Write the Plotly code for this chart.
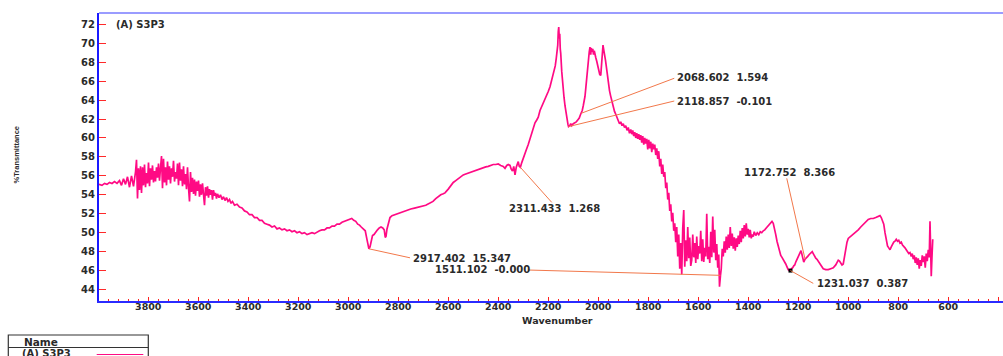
import numpy as np
import plotly.graph_objects as go

# ---------------- spectrum: (wavenumber cm-1, %Transmittance) ----------------
band_4000_3860 = [
    (3997, 55.1), (3985, 55.0), (3975, 55.2), (3965, 55.1), (3955, 55.3), (3945, 55.2),
    (3935, 55.4), (3925, 55.2), (3915, 55.5), (3907, 55.0), (3899, 55.7), (3891, 55.1),
    (3883, 55.9), (3875, 54.8), (3867, 56.0), (3859, 54.9),
]

band_oh = [
    (3851, 56.4), (3847, 57.7), (3843, 53.6), (3839, 56.8), (3835, 54.5), (3831, 57.0),
    (3827, 54.2), (3823, 56.9), (3819, 55.0), (3815, 57.2), (3811, 54.8), (3807, 56.3),
    (3803, 55.2), (3799, 57.4), (3795, 54.9), (3791, 56.8), (3787, 55.6), (3783, 57.1),
    (3779, 55.3), (3775, 56.5), (3771, 55.4), (3767, 56.9), (3763, 55.8), (3759, 57.3),
    (3755, 55.5), (3751, 56.6), (3747, 58.1), (3743, 54.7), (3739, 57.8), (3735, 55.3),
    (3731, 56.9), (3727, 55.0), (3723, 57.5), (3719, 55.6), (3715, 57.0), (3711, 55.2),
    (3707, 56.8), (3703, 55.9), (3699, 57.6), (3695, 55.4), (3691, 56.4), (3687, 55.7),
    (3683, 57.3), (3679, 55.0), (3675, 57.4), (3671, 55.5), (3667, 56.7), (3663, 54.9),
    (3659, 57.0), (3655, 55.1), (3651, 56.2), (3647, 54.6), (3643, 56.9), (3639, 54.8),
    (3635, 53.3), (3631, 56.4), (3627, 54.3), (3623, 55.8), (3619, 54.1), (3615, 55.6),
    (3611, 53.9), (3607, 55.4), (3603, 54.4), (3599, 55.5), (3595, 53.8), (3591, 55.1),
    (3587, 54.0), (3583, 55.2), (3579, 53.6), (3575, 52.9), (3571, 54.8), (3567, 53.9),
    (3563, 54.9), (3559, 53.7), (3555, 54.6), (3551, 54.0), (3547, 54.5), (3543, 53.5),
    (3539, 54.5), (3535, 53.9), (3531, 54.2), (3527, 53.6), (3523, 54.1), (3517, 53.7),
    (3511, 54.0), (3505, 53.5), (3499, 53.8), (3493, 53.4), (3487, 53.7), (3481, 53.3),
    (3475, 53.5), (3469, 53.1), (3463, 53.3),
]

band_3460_2290 = [
    (3455, 52.9), (3445, 53.0), (3435, 52.7), (3425, 52.6), (3415, 52.3), (3405, 52.2),
    (3395, 51.9), (3385, 51.9), (3375, 51.6), (3365, 51.6), (3355, 51.3), (3345, 51.3),
    (3335, 51.0), (3325, 50.9), (3315, 50.8), (3305, 50.6), (3295, 50.7), (3285, 50.4),
    (3275, 50.5), (3265, 50.3), (3255, 50.4), (3245, 50.2), (3235, 50.3), (3225, 50.1),
    (3215, 50.2), (3205, 50.0), (3195, 50.1), (3185, 49.9), (3175, 50.0), (3165, 49.8),
    (3155, 49.9), (3145, 50.0), (3135, 49.9), (3125, 50.1), (3115, 50.2), (3105, 50.3),
    (3095, 50.3), (3085, 50.5), (3075, 50.5), (3065, 50.7), (3055, 50.7), (3045, 50.9),
    (3035, 50.9), (3025, 51.1), (3015, 51.2), (3005, 51.3), (2995, 51.4), (2986, 51.5),
    (2978, 51.3), (2970, 51.2), (2962, 50.9), (2955, 50.8), (2948, 50.6), (2940, 50.4),
    (2932, 50.2), (2926, 49.4), (2921, 48.6), (2917.402, 48.3), (2913, 48.5), (2908, 49.3),
    (2903, 49.7), (2897, 49.8), (2890, 50.1), (2883, 50.3), (2876, 50.5), (2869, 50.6),
    (2862, 50.5), (2856, 50.3), (2852, 49.5), (2849, 49.6), (2845, 50.4), (2840, 51.0),
    (2833, 51.6), (2825, 51.8), (2815, 51.9), (2805, 52.0), (2793, 52.1), (2780, 52.2),
    (2765, 52.4), (2750, 52.5), (2735, 52.6), (2720, 52.7), (2705, 52.8), (2690, 52.9),
    (2675, 53.1), (2661, 53.3), (2650, 53.6), (2640, 53.8), (2630, 54.0), (2620, 54.1),
    (2613, 54.2), (2600, 54.6), (2590, 55.0), (2580, 55.3), (2570, 55.5), (2560, 55.7),
    (2550, 55.9), (2540, 56.1), (2530, 56.2), (2520, 56.3), (2510, 56.4), (2500, 56.5),
    (2490, 56.6), (2480, 56.7), (2470, 56.8), (2460, 56.9), (2450, 56.95), (2440, 57.0),
    (2430, 57.1), (2420, 57.2), (2410, 57.2), (2400, 57.25), (2390, 57.1), (2380, 57.0),
    (2373, 56.8), (2366, 57.1), (2360, 57.2), (2353, 57.1), (2348, 56.7), (2343, 56.5),
    (2338, 57.0), (2333, 56.1), (2328, 56.9), (2323, 57.2), (2320, 57.5), (2316, 57.0),
    (2311.433, 56.9), (2306, 57.4), (2300, 57.9), (2294, 58.3),
]

band_2290_1690 = [
    (2287, 58.8), (2280, 59.3), (2273, 59.9), (2267, 60.5), (2260, 61.0), (2253, 61.6),
    (2246, 61.9), (2240, 62.2), (2233, 62.9), (2226, 63.3), (2220, 63.6), (2213, 64.0),
    (2206, 64.5), (2200, 64.9), (2193, 65.4), (2187, 66.0), (2182, 66.4), (2177, 67.2),
    (2172, 67.6), (2168, 68.4), (2165, 69.0), (2162, 69.8), (2160, 71.2), (2158, 71.7),
    (2156, 70.5), (2154, 71.0), (2152, 69.4), (2150, 68.9), (2146, 67.0), (2142, 65.4),
    (2137, 64.3), (2133, 63.4), (2129, 62.6), (2125, 62.0), (2121, 61.4), (2118.857, 61.2),
    (2114, 61.3), (2110, 61.5), (2106, 61.3), (2100, 61.5), (2094, 61.6), (2088, 61.7),
    (2082, 61.9), (2076, 62.1), (2072, 62.4), (2068.602, 62.6), (2064, 62.9), (2060, 63.4),
    (2056, 63.9), (2053, 64.4), (2050, 65.2), (2047, 66.2), (2044, 67.2), (2041, 68.2),
    (2038, 68.9), (2036, 69.1), (2033, 69.6), (2030, 68.8), (2028, 69.5), (2025, 69.1),
    (2022, 69.4), (2019, 68.8), (2016, 69.2), (2013, 68.7), (2010, 68.5), (2006, 68.1),
    (2002, 67.5), (1998, 67.0), (1994, 66.7), (1990, 66.6), (1987, 67.5), (1984, 69.0),
    (1981, 69.8), (1978, 69.3), (1975, 68.9), (1971, 68.2), (1967, 67.4), (1963, 66.5),
    (1959, 65.7), (1955, 65.0), (1951, 64.5), (1947, 64.0), (1943, 63.6), (1939, 63.3),
    (1935, 62.8), (1930, 62.5), (1925, 62.2), (1920, 61.9), (1915, 61.5), (1910, 61.7),
    (1905, 61.3), (1900, 61.5), (1895, 61.1), (1890, 61.3), (1885, 60.8), (1880, 61.1),
    (1875, 60.5), (1870, 60.9), (1866, 60.4), (1862, 60.8), (1858, 60.2), (1854, 60.6),
    (1850, 60.0), (1846, 60.5), (1842, 59.9), (1838, 60.4), (1834, 59.8), (1830, 60.3),
    (1826, 59.5), (1822, 60.2), (1818, 59.3), (1814, 60.0), (1810, 59.4), (1806, 59.9),
    (1802, 58.8), (1798, 59.8), (1794, 58.9), (1790, 59.6), (1786, 58.5), (1782, 59.4),
    (1778, 58.8), (1774, 59.3), (1770, 58.2), (1766, 58.9), (1762, 57.8), (1758, 58.6),
    (1754, 57.0), (1750, 57.8), (1746, 56.2), (1742, 57.2), (1738, 55.9), (1734, 56.4),
    (1730, 54.7), (1726, 55.3), (1722, 53.5), (1718, 54.2), (1714, 52.3), (1710, 53.0),
    (1706, 51.2), (1702, 52.1), (1698, 50.2), (1694, 51.0), (1690, 49.0), (1686, 50.6),
]

band_1690_1300 = [
    (1682, 47.5), (1678, 49.8), (1674, 46.2), (1670, 48.9), (1666, 45.6), (1662, 50.5),
    (1658, 52.4), (1654, 46.4), (1650, 49.2), (1646, 47.0), (1642, 50.6), (1638, 47.3),
    (1634, 49.5), (1630, 46.5), (1626, 47.1), (1622, 49.8), (1618, 47.4), (1614, 48.9),
    (1610, 46.8), (1606, 49.6), (1602, 47.2), (1598, 48.6), (1594, 47.8), (1590, 50.2),
    (1586, 47.0), (1582, 49.3), (1578, 46.9), (1574, 48.4), (1570, 47.5), (1566, 52.0),
    (1562, 47.2), (1558, 48.5), (1554, 46.8), (1550, 50.1), (1546, 47.4), (1542, 51.7),
    (1538, 47.9), (1534, 50.3), (1530, 47.1), (1526, 48.8), (1522, 46.3), (1518, 47.7),
    (1515, 44.3), (1511.102, 45.5), (1508, 46.2), (1504, 48.3), (1500, 47.5), (1496, 49.1),
    (1492, 47.9), (1488, 49.6), (1484, 48.2), (1480, 49.8), (1476, 48.4), (1472, 50.6),
    (1468, 48.6), (1464, 49.9), (1460, 48.3), (1456, 49.5), (1452, 48.1), (1448, 49.4),
    (1444, 48.5), (1440, 49.7), (1436, 48.8), (1432, 50.2), (1428, 49.0), (1424, 50.5),
    (1420, 49.4), (1416, 50.8), (1412, 49.6), (1408, 51.0), (1404, 49.8), (1400, 50.4),
    (1396, 49.5), (1392, 50.3), (1388, 49.4), (1384, 49.8), (1380, 49.6), (1376, 50.1),
    (1370, 49.7), (1364, 50.0), (1358, 49.8), (1352, 50.1), (1346, 50.0), (1340, 50.2),
    (1334, 50.3), (1328, 50.5), (1322, 50.7), (1316, 50.9), (1310, 51.1), (1305, 51.2),
]

band_1300_660 = [
    (1300, 51.0), (1295, 50.5), (1290, 49.8), (1285, 49.1), (1280, 48.5), (1275, 47.9),
    (1270, 47.6), (1265, 47.4), (1260, 47.2), (1255, 46.9), (1250, 46.7), (1245, 46.4),
    (1240, 46.1), (1235, 46.0), (1231.037, 46.0), (1227, 46.2), (1222, 46.3), (1218, 46.5),
    (1214, 46.6), (1210, 46.9), (1205, 47.2), (1200, 47.5), (1196, 47.6), (1192, 47.9),
    (1189, 48.1), (1186, 47.8), (1182, 47.2), (1178, 46.9), (1172.752, 47.2), (1168, 47.3),
    (1162, 47.5), (1156, 47.7), (1150, 47.9), (1144, 48.0), (1140, 47.8), (1135, 47.5),
    (1130, 47.3), (1125, 47.2), (1120, 47.0), (1115, 46.8), (1110, 46.5), (1105, 46.3),
    (1100, 46.2), (1090, 46.1), (1080, 46.1), (1070, 46.2), (1060, 46.3), (1050, 46.6),
    (1045, 46.9), (1040, 47.1), (1035, 47.0), (1030, 46.8), (1025, 46.6), (1020, 46.7),
    (1015, 47.5), (1010, 48.4), (1005, 49.0), (1000, 49.4), (990, 49.6), (980, 49.8),
    (970, 50.0), (960, 50.3), (950, 50.6), (940, 50.9), (930, 51.2), (920, 51.4),
    (910, 51.5), (900, 51.5), (890, 51.6), (880, 51.7), (873, 51.8), (868, 51.6),
    (863, 51.3), (858, 50.9), (853, 50.0), (848, 49.1), (843, 48.6), (838, 48.4),
    (833, 48.2), (828, 48.5), (823, 48.8), (818, 49.0), (813, 49.1), (808, 49.3),
    (803, 49.1), (798, 49.2), (793, 48.9), (788, 49.0), (783, 48.7), (778, 48.6),
    (773, 48.4), (768, 48.2), (763, 48.0), (758, 47.8), (753, 47.9), (748, 47.5),
    (744, 47.8), (740, 47.2), (736, 47.6), (732, 46.8), (728, 47.4), (724, 46.6),
    (720, 47.3), (716, 46.2), (712, 47.1), (708, 46.5), (704, 47.6), (700, 46.9),
    (696, 47.5), (692, 46.3), (688, 47.8), (684, 47.0), (680, 48.2), (676, 47.4),
    (673, 51.2), (671, 48.0), (668, 45.4), (665, 47.5), (662, 49.3),
]

# picked peaks: wavenumber and peak height shown next to each marker line
peak_wavenumber = [2068.602, 2118.857, 2311.433, 2917.402, 1511.102, 1172.752, 1231.037]
peak_height = [1.594, -0.101, 1.268, 15.347, -0.0, 8.366, 0.387]

# where each peak label sits: (text x, text y, leader end x, leader end y) in axis units
label_layout = [
    (1693, 66.43, 1696, 66.3),
    (1693, 63.90, 1696, 63.9),
    (2366, 52.57, 2186, 53.2),
    (2749, 47.29, 2753, 47.35),
    (2661, 46.13, 2280, 46.06),
    (1425, 56.40, 1246, 55.74),
    (1133, 44.65, 1140, 44.65),
]

sample_name = "(A) S3P3"

points = (band_4000_3860 + band_oh + band_3460_2290 + band_2290_1690
          + band_1690_1300 + band_1300_660)
wavenumber = np.array([p[0] for p in points])
transmittance = np.array([p[1] for p in points])

# ---------------- figure geometry ----------------
W, H = 1003, 356
ML, MR, MT, MB = 99, 0, 13, 55
PW, PH = W - ML - MR, H - MT - MB


def px(x):
    return (x - ML) / PW


def py(y):
    return (H - MB - y) / PH


FONT = "DejaVu Sans"
TXT = "#2a2a2a"
CURVE = "#ff0a84"
LEADER = "#f2784b"

fig = go.Figure()
fig.add_trace(go.Scatter(
    x=wavenumber, y=transmittance, mode="lines",
    line=dict(color=CURVE, width=1.7), hoverinfo="skip", showlegend=False,
))

# peak cursor marker
order = np.argsort(wavenumber)
marker_y = np.interp(peak_wavenumber[-1], wavenumber[order], transmittance[order])
fig.add_trace(go.Scatter(
    x=[peak_wavenumber[-1]], y=[marker_y], mode="markers",
    marker=dict(symbol="square", size=4, color="black"), showlegend=False,
))

shapes = []
annotations = []
for wn, h, (tx, ty, lx, ly) in zip(peak_wavenumber, peak_height, label_layout):
    cy = np.interp(wn, wavenumber[order], transmittance[order])
    shapes.append(dict(type="line", xref="x", yref="y", x0=wn, y0=cy, x1=lx, y1=ly,
                       line=dict(color=LEADER, width=1)))
    annotations.append(dict(
        x=tx, y=ty, xref="x", yref="y", xanchor="left", yanchor="middle",
        text=f"{wn:.3f}  {h:.3f}", showarrow=False,
        font=dict(family=FONT, size=10, color=TXT, weight="bold"),
    ))

# top frame line
shapes.append(dict(type="line", xref="paper", yref="paper", x0=0, x1=1, y0=1, y1=1,
                   line=dict(color="#9a9cff", width=2)))

# name box below the axis
bx0, bx1 = px(8.3), px(148.3)
shapes.append(dict(type="rect", xref="paper", yref="paper", x0=bx0, x1=bx1,
                   y0=py(362), y1=py(335), line=dict(color="#333333", width=1.2)))
shapes.append(dict(type="line", xref="paper", yref="paper", x0=bx0, x1=bx1,
                   y0=py(347.5), y1=py(347.5), line=dict(color="#333333", width=1.2)))
shapes.append(dict(type="line", xref="paper", yref="paper", x0=px(96.7), x1=px(143.3),
                   y0=py(354.5), y1=py(354.5), line=dict(color=CURVE, width=1.2)))

annotations += [
    dict(x=px(114), y=py(24.3), xref="paper", yref="paper", xanchor="left", yanchor="middle",
         text=sample_name, showarrow=False,
         font=dict(family=FONT, size=10, color=TXT, weight="bold")),
    dict(x=px(557), y=py(320), xref="paper", yref="paper", xanchor="center", yanchor="middle",
         text="Wavenumber", showarrow=False,
         font=dict(family=FONT, size=9.5, color=TXT, weight="bold")),
    dict(x=px(15.5), y=py(155), xref="paper", yref="paper", xanchor="center", yanchor="middle",
         text="%Transmittance", textangle=-90, showarrow=False,
         font=dict(family="Liberation Sans Narrow, Liberation Sans", size=7.5, color=TXT,
                   weight="bold")),
    dict(x=px(21.5), y=py(341.5), xref="paper", yref="paper", xanchor="left", yanchor="middle",
         text="Name", showarrow=False,
         font=dict(family=FONT, size=10.5, color=TXT, weight="bold")),
    dict(x=px(20), y=py(353.5), xref="paper", yref="paper", xanchor="left", yanchor="middle",
         text=sample_name, showarrow=False,
         font=dict(family=FONT, size=10, color=TXT, weight="bold")),
]

fig.update_layout(
    width=W, height=H,
    margin=dict(l=ML, r=MR, t=MT, b=MB, pad=0),
    paper_bgcolor="white", plot_bgcolor="white",
    shapes=shapes, annotations=annotations, showlegend=False,
)
fig.update_xaxes(
    range=[3997, 381], autorange=False, showgrid=False, zeroline=False,
    showline=True, linecolor="#2b2bff", linewidth=1.5,
    tickmode="linear", tick0=0, dtick=200,
    ticks="inside", ticklen=4, tickwidth=1, tickcolor="#ff2020",
    minor=dict(ticks="inside", ticklen=2.5, tickwidth=1, tickcolor="#ff2020",
               dtick=40, tick0=0, showgrid=False),
    tickfont=dict(family=FONT, size=9.5, color=TXT, weight="bold"),
    ticklabelstandoff=-4,
    automargin=False,
)
fig.update_yaxes(
    range=[42.79, 73.19], autorange=False, showgrid=False, zeroline=False,
    showline=True, linecolor="#1a1aff", linewidth=2,
    tickmode="linear", tick0=0, dtick=2,
    ticks="inside", ticklen=7, tickwidth=1, tickcolor="#ff2a2a",
    tickfont=dict(family=FONT, size=10, color=TXT, weight="bold"),
    automargin=False,
)

fig.write_html("out.html")
